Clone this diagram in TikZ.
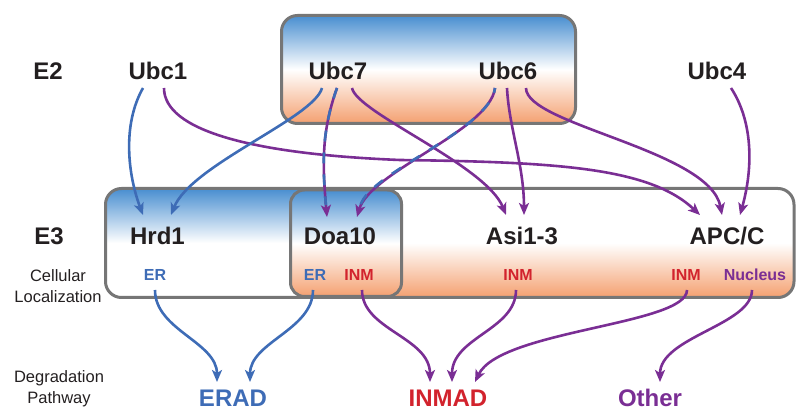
\documentclass[tikz,border=0pt]{standalone}
\usepackage{fontspec}
\setmainfont{Liberation Sans}
\usetikzlibrary{arrows.meta}

\definecolor{erblue}{RGB}{62,108,182}
\definecolor{inmred}{RGB}{210,35,45}
\definecolor{nucpurple}{RGB}{122,46,148}
\definecolor{topblue}{RGB}{72,142,208}
\definecolor{botorange}{RGB}{244,160,112}
\definecolor{boxgray}{RGB}{118,118,118}
\definecolor{inkblack}{RGB}{35,31,32}

\begin{document}
\begin{tikzpicture}[x=1pt, y=-1pt,
    enzyme/.style={anchor=base, inner sep=2pt, text=inkblack, font=\fontsize{24}{24}\selectfont\bfseries},
    site/.style={anchor=base, inner sep=2pt, font=\fontsize{16}{16}\selectfont\bfseries},
    pathway/.style={anchor=base, inner sep=2pt, font=\fontsize{24}{24}\selectfont\bfseries},
    rowlabel/.style={align=center, inner sep=0pt, text=inkblack, font=\fontsize{16.5}{21}\selectfont},
    panel/.style={draw=boxgray, line width=3pt, rounded corners=16pt},
    membrane/.style={top color=topblue, bottom color=botorange, middle color=white},
    link/.style={line width=2.6pt, -{Stealth[length=12pt, width=10pt, inset=3pt]}},
    stripe/.style={draw=erblue, line width=2.6pt, dash pattern=on 11pt off 11pt, shorten >=12pt},
]
    \useasboundingbox (0,0) rectangle (796,411);

    % E2 panel
    \shade[membrane, rounded corners=16pt] (281.5,15.5) rectangle (575.5,123.5);
    \draw[panel] (281.5,15.5) rectangle (575.5,123.5);

    % E3 panel: ER side on the left, nuclear side on the right
    \begin{scope}
        \clip[rounded corners=16pt] (105.5,188.5) rectangle (794,297.5);
        \shade[top color=topblue, bottom color=white, middle color=white] (105.5,188.5) rectangle (346,297.5);
        \shade[top color=white, bottom color=botorange, middle color=white] (346,188.5) rectangle (794,297.5);
    \end{scope}
    \draw[panel] (105.5,188.5) rectangle (794,297.5);

    % Doa10 sits in both membranes
    \shade[membrane, rounded corners=14pt] (290.5,190) rectangle (401.5,296.5);
    \draw[panel, rounded corners=14pt] (290.5,190) rectangle (401.5,296.5);

    % E2 row
    \node[enzyme] (e2) at (48,80) {E2};
    \node[enzyme] (ubc1) at (158,80) {Ubc1};
    \node[enzyme] (ubc7) at (338,80) {Ubc7};
    \node[enzyme] (ubc6) at (508,80) {Ubc6};
    \node[enzyme] (ubc4) at (717,80) {Ubc4};

    % E3 row
    \node[enzyme] (e3) at (49,245) {E3};
    \node[enzyme] (hrd1) at (157.5,245) {Hrd1};
    \node[enzyme] (doa10) at (340,245) {Doa10};
    \node[enzyme] (asi) at (522,245) {Asi1-3};
    \node[enzyme] (apcc) at (727,245) {APC/C};

    % localization
    \node[rowlabel] (loclabel) at (58,286) {Cellular\\Localization};
    \node[site, text=erblue] (hrd1er) at (155,281) {ER};
    \node[site, text=erblue] (doa10er) at (315,281) {ER};
    \node[site, text=inmred] (doa10inm) at (359,281) {INM};
    \node[site, text=inmred] (asiinm) at (518,281) {INM};
    \node[site, text=inmred] (apccinm) at (686,281) {INM};
    \node[site, text=nucpurple] (apccnuc) at (755,281) {Nucleus};

    % degradation pathways
    \node[rowlabel] (deglabel) at (59,389) {Degradation\\Pathway};
    \node[pathway, text=erblue] (erad) at (233,407) {ERAD};
    \node[pathway, text=inmred] (inmad) at (448,407) {INMAD};
    \node[pathway, text=nucpurple] (other) at (650,407) {Other};

    % E2 -> E3
    \draw[link, erblue] ([xshift=-15pt, yshift=-8pt]ubc1.base) .. controls +(-21,37) and +(-15,-40) .. ([xshift=-14.5pt, yshift=30pt]hrd1.base);
    \draw[link, nucpurple] ([xshift=6pt, yshift=-8pt]ubc1.base) .. controls +(0,42) and +(-150,-6) .. (400,160)
        .. controls +(160,2) and +(-50,-47) .. ([xshift=-27pt, yshift=30pt]apcc.base);

    \draw[link, erblue] ([xshift=-16pt, yshift=-8pt]ubc7.base) .. controls +(-8,30) and +(20,-50) .. ([xshift=13.5pt, yshift=30pt]hrd1.base);
    \draw[link, nucpurple] ([xshift=-1pt, yshift=-8pt]ubc7.base) .. controls +(-15,42) and +(-5,-55) .. ([xshift=-13pt, yshift=28pt]doa10.base);
    \draw[stripe] ([xshift=-1pt, yshift=-8pt]ubc7.base) .. controls +(-15,42) and +(-5,-55) .. ([xshift=-13pt, yshift=28pt]doa10.base);
    \draw[link, nucpurple] ([xshift=14pt, yshift=-8pt]ubc7.base) .. controls +(5,25) and +(-20,-50) .. ([xshift=-16pt, yshift=30pt]asi.base);

    \draw[link, nucpurple] ([xshift=-13pt, yshift=-8pt]ubc6.base) .. controls +(-5,42) and +(13,-45) .. ([xshift=17pt, yshift=28pt]doa10.base);
    \draw[stripe, dash phase=6pt] ([xshift=-13pt, yshift=-8pt]ubc6.base) .. controls +(-5,42) and +(13,-45) .. ([xshift=17pt, yshift=28pt]doa10.base);
    \draw[link, nucpurple] ([xshift=-1pt, yshift=-8pt]ubc6.base) .. controls +(2,40) and +(0,-50) .. ([xshift=2pt, yshift=30pt]asi.base);
    \draw[link, nucpurple] ([xshift=18pt, yshift=-8pt]ubc6.base) .. controls +(0,37) and +(-12,-65) .. ([xshift=-5pt, yshift=30pt]apcc.base);

    \draw[link, nucpurple] ([xshift=14pt, yshift=-8pt]ubc4.base) .. controls +(21,32) and +(14,-50) .. ([xshift=13pt, yshift=30pt]apcc.base);

    % localization -> pathway
    \draw[link, erblue] ([yshift=-9pt]hrd1er.base) .. controls +(0,40) and +(0,-40) .. ([xshift=-16pt, yshift=25pt]erad.base);
    \draw[link, erblue] ([xshift=-2pt, yshift=-9pt]doa10er.base) .. controls +(0,40) and +(0,-40) .. ([xshift=17pt, yshift=25pt]erad.base);
    \draw[link, nucpurple] ([xshift=3pt, yshift=-9pt]doa10inm.base) .. controls +(0,40) and +(0,-45) .. ([xshift=-18pt, yshift=25pt]inmad.base);
    \draw[link, nucpurple] ([xshift=-2pt, yshift=-9pt]asiinm.base) .. controls +(0,40) and +(0,-45) .. ([xshift=4pt, yshift=25pt]inmad.base);
    \draw[link, nucpurple] ([xshift=1pt, yshift=-9pt]apccinm.base) .. controls +(0,35) and +(25,-52) .. ([xshift=27pt, yshift=25pt]inmad.base);
    \draw[link, nucpurple] ([xshift=-3pt, yshift=-9pt]apccnuc.base) .. controls +(0,35) and +(0,-45) .. ([xshift=10pt, yshift=25pt]other.base);
\end{tikzpicture}
\end{document}
